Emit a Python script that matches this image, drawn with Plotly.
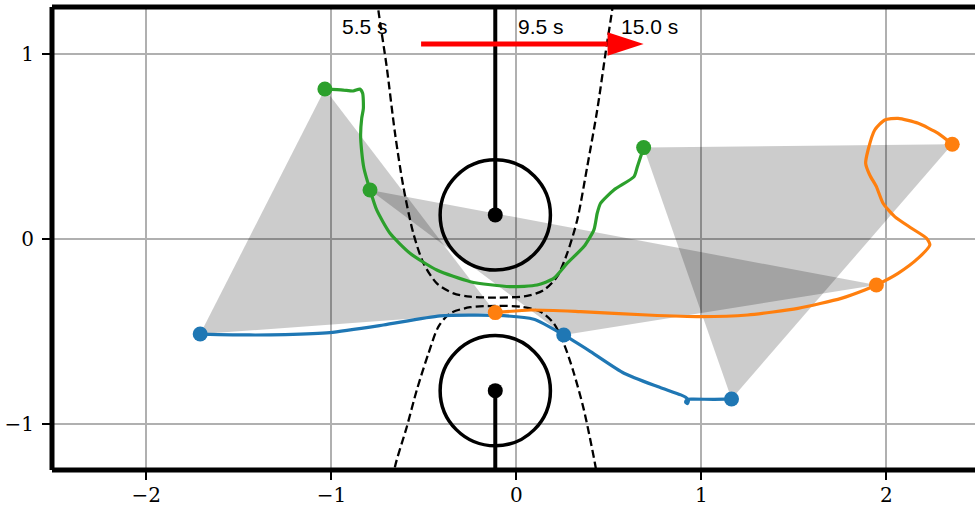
import plotly.graph_objects as go

# ---------------- data ----------------
# trajectories
blue_x = [-1.709, -1.442, -1.25, -1.008, -0.719, -0.412, -0.105, 0.094, 0.256, 0.401, 0.582, 0.763,
          0.889, 0.915, 0.930, 0.925, 0.915, 0.922, 0.95, 1.07, 1.163]
blue_y = [-0.514, -0.519, -0.517, -0.506, -0.465, -0.416, -0.413, -0.434, -0.519, -0.609, -0.726, -0.798,
          -0.843, -0.856, -0.872, -0.890, -0.882, -0.868, -0.866, -0.867, -0.865]

orange_x = [-0.114, 0.076, 0.347, 0.708, 0.997, 1.25, 1.522, 1.756, 1.883, 1.946, 2.063, 2.172, 2.235,
            2.217, 2.136, 2.045, 1.982, 1.946, 1.91, 1.888, 1.901, 1.937, 1.991, 2.063, 2.172, 2.28, 2.356]
orange_y = [-0.398, -0.384, -0.393, -0.411, -0.42, -0.411, -0.375, -0.321, -0.276, -0.249, -0.186, -0.104, -0.032,
            0.004, 0.058, 0.121, 0.193, 0.283, 0.346, 0.409, 0.481, 0.589, 0.643, 0.652, 0.625, 0.571, 0.512]

green_x = [-1.035, -0.936, -0.882, -0.846, -0.831, -0.827, -0.836, -0.842, -0.836, -0.824, -0.791,
           -0.755, -0.683, -0.575, -0.43, -0.249, -0.033, 0.112, 0.202, 0.275, 0.365, 0.419, 0.437,
           0.455, 0.527, 0.636, 0.654, 0.688]
green_y = [0.811, 0.805, 0.80, 0.81, 0.788, 0.706, 0.652, 0.562, 0.472, 0.382, 0.265,
           0.157, 0.031, -0.077, -0.168, -0.231, -0.258, -0.249, -0.213, -0.131, -0.041, 0.049, 0.139,
           0.193, 0.265, 0.337, 0.391, 0.494]

# snapshots (formation triangles) at the labelled times
snap_labels = ["5.5 s", "9.5 s", "15.0 s"]
snap_label_x = [-0.954, 0.0, 0.553]
snap_label_y = [1.146, 1.146, 1.146]
snap_blue_x = [-1.709, 0.256, 1.163]
snap_blue_y = [-0.514, -0.519, -0.865]
snap_green_x = [-1.035, -0.791, 0.688]
snap_green_y = [0.811, 0.265, 0.494]
snap_orange_x = [-0.114, 1.946, 2.356]
snap_orange_y = [-0.398, -0.249, 0.512]

# dashed boundaries
upper_bound_x = [-0.752, -0.746, -0.701, -0.656, -0.611, -0.557, -0.502, -0.430, -0.340, -0.249, -0.114,
                 0.058, 0.148, 0.22, 0.275, 0.329, 0.383, 0.437, 0.482, 0.519, 0.525]
upper_bound_y = [1.30, 1.238, 0.931, 0.572, 0.283, 0.031, -0.131, -0.240, -0.294, -0.312, -0.317,
                 -0.308, -0.276, -0.204, -0.077, 0.103, 0.391, 0.697, 1.004, 1.247, 1.30]
lower_bound_x = [-0.664, -0.656, -0.592, -0.538, -0.475, -0.421, -0.358, -0.249, -0.114, 0.022, 0.130,
                 0.202, 0.256, 0.311, 0.365, 0.428, 0.438]
lower_bound_y = [-1.30, -1.231, -1.015, -0.816, -0.618, -0.474, -0.402, -0.369, -0.362, -0.366, -0.393,
                 -0.456, -0.564, -0.726, -0.924, -1.231, -1.30]

# obstacles (poles)
pole_x = [-0.114, -0.114]
pole_y = [0.130, -0.820]
pole_r = [0.298, 0.298]
pole_end_y = [1.30, -1.30]

# arrow
arrow_y = 1.054
arrow_x0, arrow_xb, arrow_x1 = -0.515, 0.493, 0.688
arrow_half = 0.064

x_ticks = [-2, -1, 0, 1, 2]
y_ticks = [-1, 0, 1]

def lab(v):
    return ("\u2212" + str(abs(v))) if v < 0 else str(v)

BLUE, ORANGE, GREEN = "#1f77b4", "#ff7f0e", "#2ca02c"

fig = go.Figure()

# triangles
for i in range(len(snap_labels)):
    fig.add_trace(go.Scatter(
        x=[snap_blue_x[i], snap_green_x[i], snap_orange_x[i], snap_blue_x[i]],
        y=[snap_blue_y[i], snap_green_y[i], snap_orange_y[i], snap_blue_y[i]],
        mode="lines", fill="toself", fillcolor="rgba(0,0,0,0.2)",
        line=dict(width=0, color="rgba(0,0,0,0)"), hoverinfo="skip"))

# dashed boundaries
for bx, by in [(upper_bound_x, upper_bound_y), (lower_bound_x, lower_bound_y)]:
    fig.add_trace(go.Scatter(x=bx, y=by, mode="lines",
                             line=dict(color="black", width=2.3, dash="8px,4px", shape="spline", smoothing=0.8)))

# poles
for i in range(2):
    fig.add_trace(go.Scatter(x=[pole_x[i], pole_x[i]], y=[pole_y[i], pole_end_y[i]], mode="lines",
                             line=dict(color="black", width=4)))
fig.add_trace(go.Scatter(x=pole_x, y=pole_y, mode="markers",
                         marker=dict(color="black", size=15)))

# trajectories
for tx, ty, c in [(blue_x, blue_y, BLUE), (orange_x, orange_y, ORANGE), (green_x, green_y, GREEN)]:
    fig.add_trace(go.Scatter(x=tx, y=ty, mode="lines",
                             line=dict(color=c, width=3.2, shape="spline", smoothing=0.6)))
for sx, sy, c in [(snap_blue_x, snap_blue_y, BLUE), (snap_orange_x, snap_orange_y, ORANGE),
                  (snap_green_x, snap_green_y, GREEN)]:
    fig.add_trace(go.Scatter(x=sx, y=sy, mode="markers", marker=dict(color=c, size=15),
                             cliponaxis=False))

# arrow
fig.add_trace(go.Scatter(x=[arrow_x0, arrow_xb], y=[arrow_y, arrow_y], mode="lines",
                         line=dict(color="#ff0000", width=5)))
fig.add_trace(go.Scatter(x=[arrow_xb, arrow_x1, arrow_xb, arrow_xb],
                         y=[arrow_y + arrow_half, arrow_y, arrow_y - arrow_half, arrow_y + arrow_half],
                         mode="lines", fill="toself", fillcolor="#ff0000",
                         line=dict(color="#ff0000", width=0)))

shapes = []
for i in range(2):
    shapes.append(dict(type="circle", xref="x", yref="y",
                       x0=pole_x[i] - pole_r[i], x1=pole_x[i] + pole_r[i],
                       y0=pole_y[i] - pole_r[i], y1=pole_y[i] + pole_r[i],
                       line=dict(color="black", width=3.5), layer="above"))
# spines (left, top, bottom)
for (x0, y0, x1, y1) in [(0, 0, 0, 1), (0, 1, 1, 1), (0, 0, 1, 0)]:
    shapes.append(dict(type="line", xref="paper", yref="paper", x0=x0, y0=y0, x1=x1, y1=y1,
                       line=dict(color="black", width=5), layer="above"))

annotations = [dict(x=snap_label_x[i], y=snap_label_y[i], xref="x", yref="y", text=snap_labels[i],
                    showarrow=False, xanchor="left", yanchor="middle",
                    font=dict(family="Liberation Sans, Arial", size=21, color="black"))
               for i in range(len(snap_labels))]

tickfont = dict(family="DejaVu Serif, serif", size=20, color="black")
fig.update_layout(
    width=975, height=508, margin=dict(l=52, r=0, t=7, b=38, autoexpand=False),
    plot_bgcolor="white", paper_bgcolor="white", showlegend=False,
    shapes=shapes, annotations=annotations,
    xaxis=dict(range=[-2.51, 2.479], tickvals=x_ticks, ticktext=[lab(v) for v in x_ticks],
               showgrid=True, gridcolor="#b0b0b0", gridwidth=1.5, zeroline=False, showline=False,
               ticks="outside", ticklen=9, tickwidth=2, tickcolor="black", automargin=False,
               ticklabelstandoff=-2, tickfont=tickfont),
    yaxis=dict(range=[-1.249, 1.254], tickvals=y_ticks, ticktext=[lab(v) for v in y_ticks],
               showgrid=True, gridcolor="#b0b0b0", gridwidth=1.5, zeroline=False, showline=False,
               ticks="outside", ticklen=9, tickwidth=2, tickcolor="black", automargin=False,
               ticklabelstandoff=4, tickfont=tickfont),
)

fig.write_html("out.html", config={"displayModeBar": False},
               post_script="document.body.style.margin='0px';document.body.style.overflow='hidden';")
